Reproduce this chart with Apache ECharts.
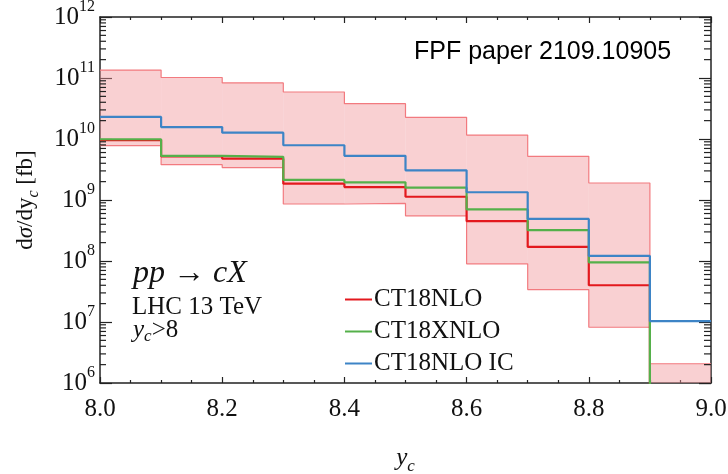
<!DOCTYPE html>
<html>
<head>
<meta charset="utf-8">
<script src="https://cdn.jsdelivr.net/npm/echarts@6/dist/echarts.min.js"></script>
<style>html,body{margin:0;padding:0;background:#fff}#c{width:728px;height:474px}</style>
</head>
<body>
<div id="c"></div>
<script>
// bin edges in y_c
const binEdges = [8.0, 8.1, 8.2, 8.3, 8.4, 8.5, 8.6, 8.7, 8.8, 8.9, 9.0];
// dσ/dy_c [fb] per bin (last bins of CT18NLO / CT18XNLO fall below the axis range)
const ct18nlo   = [9.6e9, 5.2e9, 4.75e9, 1.85e9, 1.63e9, 1.13e9, 4.5e8, 1.7e8, 4.0e7, 1e5];
const ct18xnlo  = [9.9e9, 5.3e9, 5.1e9, 2.13e9, 1.95e9, 1.59e9, 7.0e8, 3.2e8, 9.5e7, 1e5];
const ct18nloIC = [2.3e10, 1.57e10, 1.27e10, 7.9e9, 5.3e9, 3.07e9, 1.34e9, 4.9e8, 1.21e8, 1.03e7];
// CT18NLO uncertainty band
const bandUpper = [1.35e11, 1.02e11, 8.3e10, 5.9e10, 3.8e10, 2.27e10, 1.16e10, 5.2e9, 1.9e9, 2.07e6];
const bandLower = [7.8e9, 3.8e9, 3.4e9, 8.6e8, 8.8e8, 5.5e8, 9.0e7, 3.4e7, 8.2e6, 1e5];
const seriesNames = ['CT18NLO', 'CT18XNLO', 'CT18NLO IC'];
const xTickLabels = ['8.0', '8.2', '8.4', '8.6', '8.8', '9.0'];
const yDecades = [6, 7, 8, 9, 10, 11, 12];

const SERIF = '"Liberation Serif", "DejaVu Serif", serif';

function stepData(vals) {
  const d = vals.map((v, i) => [binEdges[i], v]);
  d.push([binEdges[binEdges.length - 1], vals[vals.length - 1]]);
  return d;
}
const bandData = bandUpper.map((u, i) => [binEdges[i], binEdges[i + 1], bandLower[i], u]);

// minor log ticks 2..9 per decade
const minorTickVals = [];
for (let k = 0; k < yDecades.length - 1; k++) {
  for (let m = 2; m <= 9; m++) minorTickVals.push([binEdges[0], m * Math.pow(10, yDecades[k])]);
}

const chart = echarts.init(document.getElementById('c'), null, {renderer: 'canvas'});

const axisLineStyle = {color: '#222', width: 1.5};
const xAxisBase = {
  type: 'value', min: 8, max: 9, interval: 0.2,
  axisLine: {show: true, onZero: false, lineStyle: axisLineStyle},
  axisTick: {show: true, inside: true, length: 6, lineStyle: {color: '#222', width: 1.2}},
  minorTick: {show: true, splitNumber: 4, length: 3, lineStyle: {color: '#222', width: 1.2}},
  splitLine: {show: false}, minorSplitLine: {show: false}
};
const yAxisBase = {
  type: 'log', logBase: 10, min: 1e6, max: 1e12,
  axisLine: {show: true, onZero: false, lineStyle: axisLineStyle},
  axisTick: {show: true, inside: true, length: 12, lineStyle: {color: '#222', width: 1.2}},
  splitLine: {show: false}
};

chart.setOption({
  animation: false,
  backgroundColor: '#fff',
  grid: {left: 100, right: 17, top: 17, bottom: 91, containLabel: false, outerBoundsMode: 'none'},
  xAxis: [
    Object.assign({}, xAxisBase, {
      position: 'bottom',
      name: '{i|y}{s|c}',
      nameLocation: 'middle', nameGap: 58,
      nameTextStyle: {rich: {
        i: {fontFamily: SERIF, fontStyle: 'italic', fontSize: 25, color: '#111', lineHeight: 30},
        s: {fontFamily: SERIF, fontStyle: 'italic', fontSize: 17, color: '#111', verticalAlign: 'bottom', lineHeight: 34}
      }},
      axisLabel: {show: true, margin: 14, fontFamily: SERIF, fontSize: 25, color: '#111',
        formatter: v => { const s = v.toFixed(1); return xTickLabels.indexOf(s) >= 0 ? s : ''; }}
    }),
    Object.assign({}, xAxisBase, {position: 'top', axisLabel: {show: false}})
  ],
  yAxis: [
    Object.assign({}, yAxisBase, {
      position: 'left',
      name: '{r|d}{i|σ}{r|/dy}{s|c}{r| [fb]}',
      nameLocation: 'middle', nameGap: 58, nameRotate: 90,
      nameTextStyle: {rich: {
        r: {fontFamily: SERIF, fontSize: 23, color: '#111', lineHeight: 28},
        i: {fontFamily: SERIF, fontStyle: 'italic', fontSize: 23, color: '#111', lineHeight: 28},
        s: {fontFamily: SERIF, fontStyle: 'italic', fontSize: 16, color: '#111', verticalAlign: 'bottom', lineHeight: 32}
      }},
      axisLabel: {show: true, margin: 5,
        formatter: v => {
          const e = Math.round(Math.log10(v));
          return yDecades.indexOf(e) >= 0 ? '{b|10}{s|' + e + '}' : '';
        },
        rich: {
          b: {fontFamily: SERIF, fontSize: 25, color: '#111', lineHeight: 36},
          s: {fontFamily: SERIF, fontSize: 16, color: '#111', verticalAlign: 'top', lineHeight: 36}
        }}
    }),
    Object.assign({}, yAxisBase, {position: 'right', axisLabel: {show: false}})
  ],
  legend: {
    data: seriesNames,
    orient: 'vertical', left: 340, top: 282,
    icon: 'rect', itemWidth: 27, itemHeight: 2, itemGap: 7,
    textStyle: {fontFamily: SERIF, fontSize: 25, color: '#111', lineHeight: 22, padding: [0, 0, 0, -3]},
    selectedMode: false
  },
  graphic: [
    {type: 'text', left: 414, top: 40, style: {text: 'FPF paper 2109.10905', font: '25px "Liberation Sans", Arial, sans-serif', fill: '#000'}},
    {type: 'text', left: 133, top: 258, style: {text: 'pp → cX', font: 'italic 32px "Liberation Serif", "DejaVu Serif", serif', fill: '#111'}},
    {type: 'text', left: 132, top: 295, style: {text: 'LHC 13 TeV', font: '25px "Liberation Serif", "DejaVu Serif", serif', fill: '#111'}},
    {type: 'text', left: 133, top: 318, style: {
      text: '{i|y}{s|c}{r|>8}',
      rich: {
        i: {fontFamily: SERIF, fontStyle: 'italic', fontSize: 25, fill: '#111', lineHeight: 26},
        s: {fontFamily: SERIF, fontStyle: 'italic', fontSize: 17, fill: '#111', verticalAlign: 'bottom', lineHeight: 30},
        r: {fontFamily: SERIF, fontSize: 25, fill: '#111', lineHeight: 26}
      }}}
  ],
  series: [
    {
      type: 'custom', name: 'band', silent: true, z: 1,
      data: bandData,
      encode: {x: [0, 1], y: [2, 3]},
      renderItem: function (params, api) {
        const p1 = api.coord([api.value(0), api.value(3)]);
        const p2 = api.coord([api.value(1), api.value(2)]);
        const rect = echarts.graphic.clipRectByRect(
          {x: p1[0], y: p1[1], width: p2[0] - p1[0], height: p2[1] - p1[1]},
          {x: params.coordSys.x, y: params.coordSys.y, width: params.coordSys.width, height: params.coordSys.height});
        return rect && {type: 'rect', shape: rect, style: {fill: 'rgba(242,150,156,0.45)', stroke: null}};
      }
    },
    {type: 'line', name: 'bandUpper', step: 'end', data: stepData(bandUpper), showSymbol: false, silent: true, z: 2,
      lineStyle: {color: '#f27a7f', width: 1.2}},
    {type: 'line', name: 'bandLower', step: 'end', data: stepData(bandLower), showSymbol: false, silent: true, z: 2,
      lineStyle: {color: '#f27a7f', width: 1.2}},
    {type: 'line', name: 'CT18NLO', step: 'end', data: stepData(ct18nlo), showSymbol: false, z: 3,
      color: '#e3191e', lineStyle: {color: '#e3191e', width: 2.2}},
    {type: 'line', name: 'CT18XNLO', step: 'end', data: stepData(ct18xnlo), showSymbol: false, z: 4,
      color: '#55b04a', lineStyle: {color: '#55b04a', width: 2.2}},
    {type: 'line', name: 'CT18NLO IC', step: 'end', data: stepData(ct18nloIC), showSymbol: false, z: 5,
      color: '#3d84c6', lineStyle: {color: '#3d84c6', width: 2.2}},
    {
      type: 'custom', name: 'minorTicks', silent: true, z: 6, clip: false,
      data: minorTickVals,
      encode: {x: 0, y: 1},
      renderItem: function (params, api) {
        const cs = params.coordSys;
        const p = api.coord([api.value(0), api.value(1)]);
        const y = p[1];
        return {type: 'group', children: [
          {type: 'line', shape: {x1: cs.x, y1: y, x2: cs.x + 6, y2: y}, style: {stroke: '#222', lineWidth: 1.2}},
          {type: 'line', shape: {x1: cs.x + cs.width - 7, y1: y, x2: cs.x + cs.width, y2: y}, style: {stroke: '#222', lineWidth: 1.2}}
        ]};
      }
    }
  ]
});
</script>
</body>
</html>
